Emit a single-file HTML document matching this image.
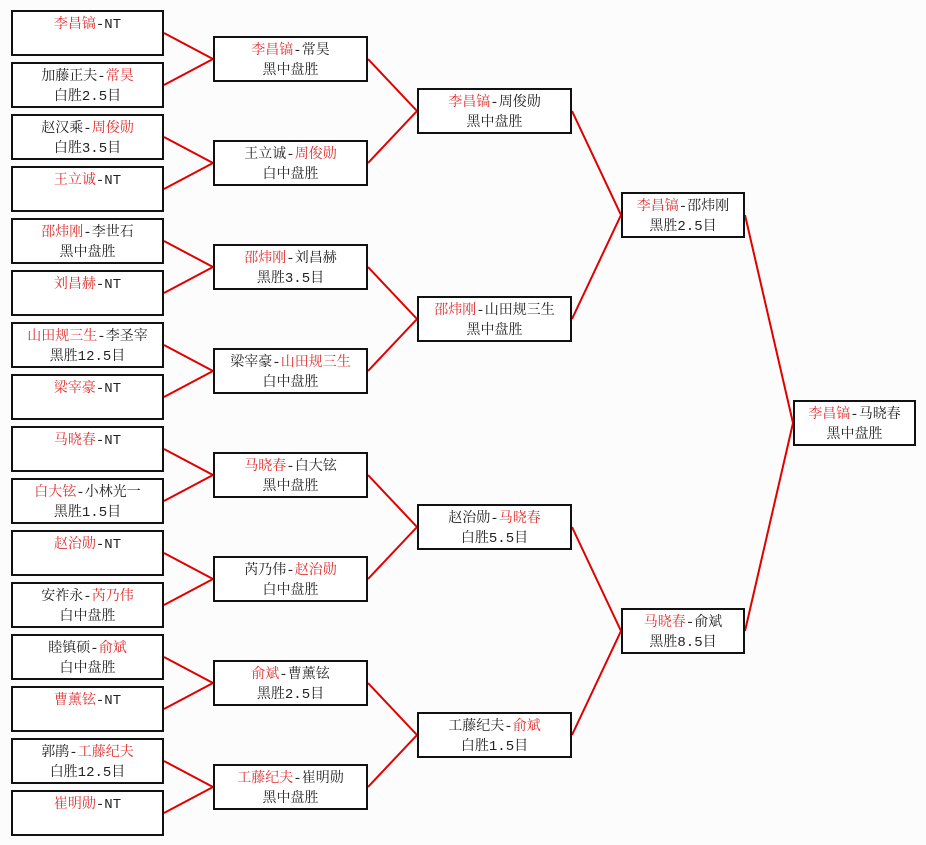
<!DOCTYPE html>
<html><head><meta charset="utf-8"><style>
body{margin:0;background:#fcfcfc;}
#c{position:relative;width:926px;height:845px;overflow:hidden;font-family:"Liberation Mono","Noto Serif CJK SC",serif;font-size:14px;color:#222;}
.b{position:absolute;box-sizing:border-box;border:2px solid #111;background:#fff;height:46px;text-align:center;line-height:20px;padding-top:3px;white-space:nowrap;}
.r{color:#e03030;}
svg{position:absolute;left:0;top:0;}
</style></head><body><div id="c">
<svg width="926" height="845"><g stroke="#e00000" stroke-width="2" fill="none">
<polyline points="164,33 213,59 164,85"/>
<polyline points="164,137 213,163 164,189"/>
<polyline points="164,241 213,267 164,293"/>
<polyline points="164,345 213,371 164,397"/>
<polyline points="164,449 213,475 164,501"/>
<polyline points="164,553 213,579 164,605"/>
<polyline points="164,657 213,683 164,709"/>
<polyline points="164,761 213,787 164,813"/>
<polyline points="368,59 417,111 368,163"/>
<polyline points="368,267 417,319 368,371"/>
<polyline points="368,475 417,527 368,579"/>
<polyline points="368,683 417,735 368,787"/>
<polyline points="572,111 621,215 572,319"/>
<polyline points="572,527 621,631 572,735"/>
<polyline points="745,215 793,423 745,631"/>
</g></svg>
<div class="b" style="left:11px;top:10px;width:153px"><span class="r">李昌镐</span>-NT</div>
<div class="b" style="left:11px;top:62px;width:153px">加藤正夫-<span class="r">常昊</span><br>白胜2.5目</div>
<div class="b" style="left:11px;top:114px;width:153px">赵汉乘-<span class="r">周俊勋</span><br>白胜3.5目</div>
<div class="b" style="left:11px;top:166px;width:153px"><span class="r">王立诚</span>-NT</div>
<div class="b" style="left:11px;top:218px;width:153px"><span class="r">邵炜刚</span>-李世石<br>黑中盘胜</div>
<div class="b" style="left:11px;top:270px;width:153px"><span class="r">刘昌赫</span>-NT</div>
<div class="b" style="left:11px;top:322px;width:153px"><span class="r">山田规三生</span>-李圣宰<br>黑胜12.5目</div>
<div class="b" style="left:11px;top:374px;width:153px"><span class="r">梁宰豪</span>-NT</div>
<div class="b" style="left:11px;top:426px;width:153px"><span class="r">马晓春</span>-NT</div>
<div class="b" style="left:11px;top:478px;width:153px"><span class="r">白大铉</span>-小林光一<br>黑胜1.5目</div>
<div class="b" style="left:11px;top:530px;width:153px"><span class="r">赵治勋</span>-NT</div>
<div class="b" style="left:11px;top:582px;width:153px">安祚永-<span class="r">芮乃伟</span><br>白中盘胜</div>
<div class="b" style="left:11px;top:634px;width:153px">睦镇硕-<span class="r">俞斌</span><br>白中盘胜</div>
<div class="b" style="left:11px;top:686px;width:153px"><span class="r">曹薰铉</span>-NT</div>
<div class="b" style="left:11px;top:738px;width:153px">郭鹃-<span class="r">工藤纪夫</span><br>白胜12.5目</div>
<div class="b" style="left:11px;top:790px;width:153px"><span class="r">崔明勋</span>-NT</div>

<div class="b" style="left:213px;top:36px;width:155px"><span class="r">李昌镐</span>-常昊<br>黑中盘胜</div>
<div class="b" style="left:213px;top:140px;width:155px">王立诚-<span class="r">周俊勋</span><br>白中盘胜</div>
<div class="b" style="left:213px;top:244px;width:155px"><span class="r">邵炜刚</span>-刘昌赫<br>黑胜3.5目</div>
<div class="b" style="left:213px;top:348px;width:155px">梁宰豪-<span class="r">山田规三生</span><br>白中盘胜</div>
<div class="b" style="left:213px;top:452px;width:155px"><span class="r">马晓春</span>-白大铉<br>黑中盘胜</div>
<div class="b" style="left:213px;top:556px;width:155px">芮乃伟-<span class="r">赵治勋</span><br>白中盘胜</div>
<div class="b" style="left:213px;top:660px;width:155px"><span class="r">俞斌</span>-曹薰铉<br>黑胜2.5目</div>
<div class="b" style="left:213px;top:764px;width:155px"><span class="r">工藤纪夫</span>-崔明勋<br>黑中盘胜</div>

<div class="b" style="left:417px;top:88px;width:155px"><span class="r">李昌镐</span>-周俊勋<br>黑中盘胜</div>
<div class="b" style="left:417px;top:296px;width:155px"><span class="r">邵炜刚</span>-山田规三生<br>黑中盘胜</div>
<div class="b" style="left:417px;top:504px;width:155px">赵治勋-<span class="r">马晓春</span><br>白胜5.5目</div>
<div class="b" style="left:417px;top:712px;width:155px">工藤纪夫-<span class="r">俞斌</span><br>白胜1.5目</div>

<div class="b" style="left:621px;top:192px;width:124px"><span class="r">李昌镐</span>-邵炜刚<br>黑胜2.5目</div>
<div class="b" style="left:621px;top:608px;width:124px"><span class="r">马晓春</span>-俞斌<br>黑胜8.5目</div>

<div class="b" style="left:793px;top:400px;width:123px"><span class="r">李昌镐</span>-马晓春<br>黑中盘胜</div>
</div></body></html>
